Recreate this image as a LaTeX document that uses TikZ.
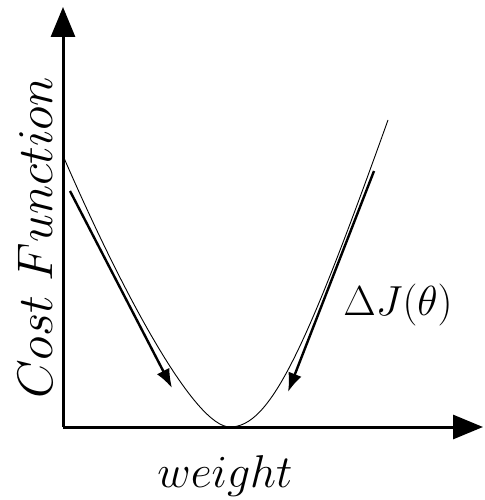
\RequirePackage{fix-cm}
\documentclass[tikz,border=0pt]{standalone}
\usepackage{amsmath,amssymb}
\usepackage{tikz}
\usetikzlibrary{arrows.meta,positioning}

\begin{document}
\begin{tikzpicture}[x=1pt,y=-1pt,
  axis/.style={line width=3pt,-{Triangle[length=30pt,width=24pt]}},
  grad/.style={line width=2.4pt,-{Latex[length=19pt,width=14pt]}},
  lbl/.style={inner sep=0pt}]
  \useasboundingbox (0,0) rectangle (484,500);
  \coordinate (O) at (63,427);
  \coordinate (ytip) at (63,7);
  \coordinate (xtip) at (483,427);
  \draw[axis] (O) -- (ytip);
  \draw[axis] (O) -- (xtip);
  % cost curve
  \coordinate (cstart) at (64,158);
  \coordinate (cmin) at (230,427);
  \coordinate (cend) at (388,120);
  \draw[line width=0.9pt] (cstart) .. controls (124,296) and (195,427) .. (cmin)
    .. controls (270,427) and (305,352) .. (cend);
  % gradient steps
  \coordinate (la) at (70,191);
  \coordinate (lb) at (172,388);
  \coordinate (ra) at (374,171);
  \coordinate (rb) at (288,392);
  \draw[grad] (la) -- (lb);
  \draw[grad] (ra) -- (rb);
  \node[lbl,rotate=90,font=\fontsize{50}{58}\selectfont] (ylab) at (35,238) {$Cost\ Function$};
  \node[lbl,anchor=base,font=\fontsize{46}{54}\selectfont] (xlab) at (225,487) {$weight$};
  \node[lbl,font=\fontsize{42}{48}\selectfont] (glab) at (398,305) {$\Delta J(\theta)$};
\end{tikzpicture}
\end{document}
